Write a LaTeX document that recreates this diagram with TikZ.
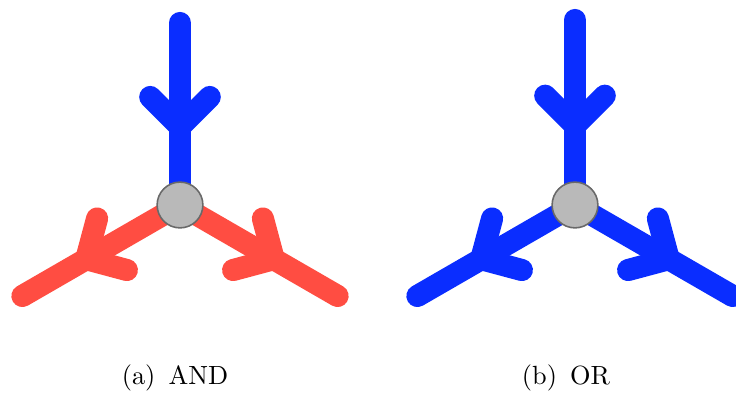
\documentclass[tikz,border=0pt]{standalone}
\usetikzlibrary{calc}
\definecolor{flowblue}{RGB}{10,45,255}
\definecolor{flowred}{RGB}{255,77,66}
\definecolor{hubgray}{RGB}{185,185,185}
\definecolor{hubedge}{RGB}{105,105,105}
\begin{document}
\begin{tikzpicture}[x=0.38pt,y=-0.38pt,
  arm/.style={line width=8.4pt, line cap=round, line join=round},
  hub/.style={circle, fill=hubgray, draw=hubedge, line width=0.6pt,
              minimum size=17.4pt, inner sep=0pt},
  caplabel/.style={font=\normalsize, inner sep=0pt}]
\useasboundingbox (0,0) rectangle (736,394);
\clip (0,0) rectangle (736,394);

% ---- (a) AND ----  (y axis points down, so 150/30 degrees lie below the hub)
\coordinate (hubA) at (180,205);
\coordinate (aTop) at (180,23);
\coordinate (aLeft) at ($(hubA)+(150:182)$);
\coordinate (aRight) at ($(hubA)+(30:182)$);
% vertex of each chevron
\coordinate (vaTop) at ($(hubA)!0.43!(aTop)$);
\coordinate (vaLeft) at ($(hubA)!0.595!(aLeft)$);
\coordinate (vaRight) at ($(hubA)!0.595!(aRight)$);

\draw[arm, flowblue] (hubA) -- (aTop);
\draw[arm, flowred] (hubA) -- (aLeft);
\draw[arm, flowred] (hubA) -- (aRight);
\draw[arm, flowblue] ($(vaTop)!16pt!45:(aTop)$) -- (vaTop) -- ($(vaTop)!16pt!-45:(aTop)$);
\draw[arm, flowred] ($(vaLeft)!16pt!45:(hubA)$) -- (vaLeft) -- ($(vaLeft)!16pt!-45:(hubA)$);
\draw[arm, flowred] ($(vaRight)!16pt!45:(hubA)$) -- (vaRight) -- ($(vaRight)!16pt!-45:(hubA)$);
\node[hub] (hA) at (hubA) {};

% ---- (b) OR ----
\coordinate (hubB) at (575,205);
\coordinate (bTop) at (575,20);
\coordinate (bLeft) at ($(hubB)+(150:182)$);
\coordinate (bRight) at ($(hubB)+(30:182)$);
\coordinate (vbTop) at ($(hubB)!0.43!(bTop)$);
\coordinate (vbLeft) at ($(hubB)!0.595!(bLeft)$);
\coordinate (vbRight) at ($(hubB)!0.595!(bRight)$);

\draw[arm, flowblue] (hubB) -- (bTop);
\draw[arm, flowblue] (hubB) -- (bLeft);
\draw[arm, flowblue] (hubB) -- (bRight);
\draw[arm, flowblue] ($(vbTop)!16pt!45:(bTop)$) -- (vbTop) -- ($(vbTop)!16pt!-45:(bTop)$);
\draw[arm, flowblue] ($(vbLeft)!16pt!45:(hubB)$) -- (vbLeft) -- ($(vbLeft)!16pt!-45:(hubB)$);
\draw[arm, flowblue] ($(vbRight)!16pt!45:(hubB)$) -- (vbRight) -- ($(vbRight)!16pt!-45:(hubB)$);
\node[hub] (hB) at (hubB) {};

% ---- captions ----
\node[caplabel] (capA) at (175,378) {(a)\hspace{5pt}AND};
\node[caplabel] (capB) at (566,378) {(b)\hspace{5pt}OR};
\end{tikzpicture}
\end{document}
